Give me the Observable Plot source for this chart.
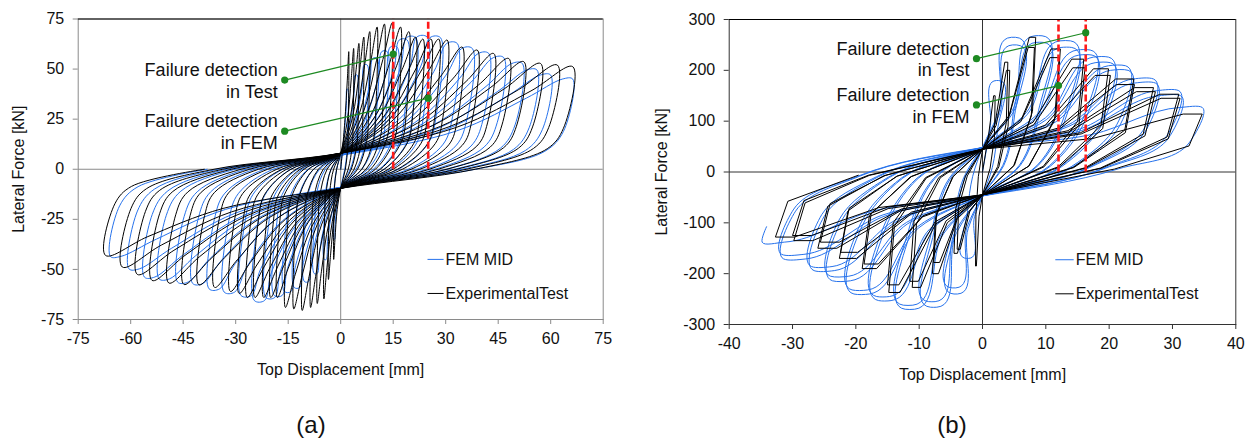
<!DOCTYPE html>
<html>
<head>
<meta charset="utf-8">
<script src="https://cdn.jsdelivr.net/npm/d3@7"></script>
<script src="https://cdn.jsdelivr.net/npm/@observablehq/plot@0.6"></script>
<style>
  html, body { margin: 0; padding: 0; background: #fff; }
  body { width: 1252px; height: 442px; position: relative; overflow: hidden;
         font-family: "Liberation Sans", Arial, Helvetica, sans-serif; }
  .panel { position: absolute; top: 0; }
  .cap { position: absolute; font-size: 24px; color: #111; transform: translate(-50%, -50%); }
</style>
</head>
<body>
<div id="pa" class="panel" style="left:0"></div>
<div id="pb" class="panel" style="left:626px"></div>
<div class="cap" style="left:311px;top:425px">(a)</div>
<div class="cap" style="left:952px;top:425px">(b)</div>
<script>
// ---------- axes ----------
const aXTicks = [-75, -60, -45, -30, -15, 0, 15, 30, 45, 60, 75];
const aYTicks = [-75, -50, -25, 0, 25, 50, 75];
const bXTicks = [-40, -30, -20, -10, 0, 10, 20, 30, 40];
const bYTicks = [-300, -200, -100, 0, 100, 200, 300];

// ---------- panel (a): cycle peaks, displacement [mm] / force [kN] ----------
const aTestPosDisp  = [2.3, 3.7, 5.2, 6.6, 8.3, 10.4, 12.5, 14.7, 17.1, 19.5, 21.4, 23.5, 25.8, 28, 30.4, 34.7, 39, 43.7, 48, 52.3, 57.1, 61.9, 66.3];
const aTestPosForce = [58.7, 60.3, 62.8, 66, 68.7, 71, 72.5, 73, 71, 68.7, 66, 65, 65, 65, 64.5, 61, 59.5, 57.8, 55.3, 53.7, 52.8, 52, 51.2];
const aTestNegDisp  = [-2, -3.5, -4.8, -6.7, -8.6, -11, -13.4, -15.8, -18.1, -20, -22, -24.5, -26.7, -29, -31.5, -36, -40.5, -44.8, -49.1, -53.9, -58.1, -62.4, -67.2];
const aTestNegForce = [-45, -55, -64.7, -67, -69, -70.5, -69.7, -69, -64, -64, -64, -64, -64, -62, -61, -59, -57.7, -57.5, -56.8, -55.5, -52.5, -48.8, -43];

const aFemPosDisp  = [2, 4.7, 7.6, 10.4, 13.3, 16.1, 19, 21.4, 24.7, 28.5, 33.3, 37.6, 42.3, 46.6, 51.9, 56.1, 60, 66.3];
const aFemPosForce = [40, 47, 52, 55.3, 58.7, 61, 64.5, 65.7, 66, 65.7, 62.8, 60.3, 57.8, 55.7, 52.8, 49.5, 47, 45];
const aFemNegDisp  = [-2, -4.7, -7.6, -10.4, -13.3, -16.1, -19, -21.4, -24.7, -28.5, -33.3, -37.6, -42.3, -46.6, -51.9, -56.1, -60.5, -65.8];
const aFemNegForce = [-35, -45, -52, -56, -59, -61, -63, -64, -65.5, -63, -61.3, -59.7, -57, -56.3, -54.7, -53.8, -49.7, -43.5];

const aFailureDisp = [15, 25];
const aNoteText = ["Failure detection\nin Test", "Failure detection\nin FEM"];
const aNoteAt   = [[-16, 44.5], [-16, 19]];
const aNoteTo   = [[15, 57.5], [25, 35.5]];

// ---------- panel (b): two cycles per amplitude ----------
const bTestPosDisp  = [2, 4, 4.3, 8.4, 8.2, 12.3, 12.1, 16, 16.2, 19.9, 20.2, 23.9, 24, 27, 27.3, 31, 31.2, 34.7];
const bTestPosForce = [150, 216, 200, 265, 245, 242, 225, 222, 205, 203, 190, 183, 172, 166, 158, 153, 145, 114];
const bTestNegDisp  = [-1.1, -4, -4.5, -7.7, -7.9, -11.1, -11.5, -14.8, -15, -18.7, -19, -22.4, -22.6, -25.6, -26, -29.8, -30, -32.7];
const bTestNegForce = [-185, -152, -160, -178, -200, -227, -215, -237, -222, -181, -190, -158, -170, -138, -150, -135, -125, -128];

const bFemPosDisp  = [2.5, 5.2, 5.4, 9.4, 9.6, 13.9, 14.1, 17, 17.3, 19.9, 20.2, 22.6, 23, 27, 27.3, 31, 31.3, 34.7];
const bFemPosForce = [180, 265, 250, 268, 255, 258, 245, 240, 230, 226, 215, 209, 200, 183, 175, 160, 150, 127];
const bFemNegDisp  = [-2.5, -4.5, -4.8, -8.2, -8.5, -12.2, -12.5, -16.4, -16.7, -20.3, -20.6, -23.7, -24, -26.6, -27, -31.4, -31.7, -34.8];
const bFemNegForce = [-170, -240, -228, -266, -255, -270, -262, -253, -245, -240, -232, -214, -205, -194, -186, -171, -162, -138];

const bFailureDisp = [12, 16.3];
const bNoteText = ["Failure detection\nin Test", "Failure detection\nin FEM"];
const bNoteAt   = [[-0.95, 223], [-0.95, 132]];
const bNoteTo   = [[16.3, 274], [12, 170]];

const seriesNames = ["FEM MID", "ExperimentalTest"];

// ---------- styling ----------
const femBlue = "#2672ec";
const testBlack = "#000";
const failRed = "#ff1a1a";
const noteGreen = "#1d8a22";

// Loop outline per cycle: reload branch bends toward the peak, a short
// plateau at the peak, a steep unloading knee, then the pinched branch
// through the origin region toward the opposite peak.
const aTestShape = {pinchUp: 8, pinchDown: -9.5, plateau: 0, stopEarly: false,
  reload: [[0.5, 0.3], [0.82, 0.72]], unload: [[0.04, 0.4], [0.11, 0.2], [0.42, 0]]};
const aFemShape = {pinchUp: 7, pinchDown: -9, plateau: 3, stopEarly: false,
  reload: [[0.5, 0.32], [0.8, 0.75]], unload: [[0.04, 0.42], [0.12, 0.2], [0.42, 0]]};
const bTestShape = {pinchUp: 45, pinchDown: -45, plateau: 3, stopEarly: false,
  reload: [[0.5, 0.3]], unload: [[0.06, 0.45], [0.4, 0.05]]};
const bFemShape = {pinchUp: 48, pinchDown: -47, plateau: 3.5, stopEarly: true,
  reload: [[0.5, 0.33]], unload: [[0.06, 0.45], [0.38, 0.05]]};

function hysteresis(pd, pf, nd, nf, shape) {
  const {pinchUp, pinchDown, reload, unload, plateau, stopEarly} = shape;
  const pts = [{x: 0, y: 0}];
  const add = (x, y) => pts.push({x, y});
  const last = pd.length - 1;
  for (let i = 0; i <= last; i++) {
    const dp = pd[i], fp = pf[i], dn = nd[i], fn = nf[i];
    for (const [m, b] of reload) add(dp * m, pinchUp + (fp - pinchUp) * b);
    if (plateau) add(dp - Math.min(plateau, dp * 0.12), fp);
    add(dp, fp);
    for (const [m, u] of unload) add(dp * (1 - m), fp * u);
    add(0, pinchDown);
    for (const [m, b] of reload) add(dn * m, pinchDown + (fn - pinchDown) * b);
    if (plateau) add(dn + Math.min(plateau, -dn * 0.12), fn);
    add(dn, fn);
    if (i === last && stopEarly) { add(dn * 0.98, fn * 0.78); break; }
    for (const [m, u] of unload) add(dn * (1 - m), fn * u);
    if (i < last) add(0, pinchUp);
  }
  return pts;
}

const fmt = d => String(d);

function panel(cfg) {
  const notes = cfg.noteText.map((t, i) => ({t, x: cfg.noteAt[i][0], y: cfg.noteAt[i][1],
    x2: cfg.noteTo[i][0], y2: cfg.noteTo[i][1]}));
  const legend = seriesNames.map((name, i) => ({name, color: i === 0 ? femBlue : testBlack,
    x1: cfg.legendX[0], x2: cfg.legendX[1], y: cfg.legendY[i]}));
  return Plot.plot({
    width: 626, height: 392,
    marginLeft: cfg.m[0], marginRight: cfg.m[1], marginTop: cfg.m[2], marginBottom: cfg.m[3],
    style: {fontFamily: "'Liberation Sans', Arial, sans-serif", fontSize: "16px",
            background: "transparent", overflow: "visible", color: "#111"},
    x: {domain: cfg.xDomain},
    y: {domain: cfg.yDomain},
    marks: [
      Plot.ruleX([0], {stroke: cfg.zeroColor, strokeWidth: 1}),
      Plot.ruleY([0], {stroke: cfg.zeroColor, strokeWidth: 1}),
      Plot.line(cfg.fem, {x: "x", y: "y", stroke: femBlue, strokeWidth: 1, curve: "catmull-rom", tension: cfg.femTension}),
      Plot.line(cfg.test, {x: "x", y: "y", stroke: testBlack, strokeWidth: 1, curve: cfg.testCurve}),
      Plot.ruleX(cfg.failure, {y1: 0, y2: cfg.yDomain[1], stroke: failRed, strokeWidth: 2.6, strokeDasharray: "7,3"}),
      Plot.link(notes, {x1: "x", y1: "y", x2: "x2", y2: "y2", stroke: noteGreen, strokeWidth: 1.2}),
      Plot.dot(notes, {x: "x", y: "y", r: 3.6, fill: noteGreen}),
      Plot.dot(notes, {x: "x2", y: "y2", r: 3.6, fill: noteGreen}),
      Plot.text(notes, {x: "x", y: "y", text: "t", textAnchor: "end", dx: -7, fontSize: 18,
        lineHeight: 1.2, fill: "#111"}),
      Plot.link(legend, {x1: "x1", x2: "x2", y1: "y", y2: "y", stroke: "color", strokeWidth: 1}),
      Plot.text(legend, {x: "x2", y: "y", text: "name", textAnchor: "start", dx: 2, fontSize: 16, fill: "#111"}),
      Plot.frame({stroke: cfg.frameColor}),
      Plot.ruleY([cfg.yDomain[1]], {stroke: "#000"}),
      Plot.axisX({ticks: cfg.xTicks, tickFormat: fmt, tickSize: 5, tickPadding: 8, stroke: cfg.frameColor,
        label: "Top Displacement [mm]", labelAnchor: "center", labelArrow: "none", labelOffset: 55}),
      Plot.axisY({ticks: cfg.yTicks, tickFormat: fmt, tickSize: 5, tickPadding: 9, stroke: cfg.frameColor,
        label: "Lateral Force [kN]", labelAnchor: "center", labelArrow: "none", labelOffset: cfg.yLabelOffset})
    ]
  });
}

document.getElementById("pa").append(panel({
  m: [77.7, 23.3, 18.5, 73],
  xDomain: [-75, 75], yDomain: [-75, 75], xTicks: aXTicks, yTicks: aYTicks,
  fem: hysteresis(aFemPosDisp, aFemPosForce, aFemNegDisp, aFemNegForce, aFemShape),
  test: hysteresis(aTestPosDisp, aTestPosForce, aTestNegDisp, aTestNegForce, aTestShape),
  testCurve: "catmull-rom", femTension: 0.5,
  failure: aFailureDisp, noteText: aNoteText, noteAt: aNoteAt, noteTo: aNoteTo,
  legendX: [24.8, 29.4], legendY: [-45, -62],
  zeroColor: "#8a8a8a", frameColor: "#8a8a8a", yLabelOffset: 66
}));

document.getElementById("pb").append(panel({
  m: [102.7, 16.7, 19, 68],
  xDomain: [-40, 40], yDomain: [-300, 300], xTicks: bXTicks, yTicks: bYTicks,
  fem: hysteresis(bFemPosDisp, bFemPosForce, bFemNegDisp, bFemNegForce, bFemShape),
  test: hysteresis(bTestPosDisp, bTestPosForce, bTestNegDisp, bTestNegForce, bTestShape),
  testCurve: "linear", femTension: 1,
  failure: bFailureDisp, noteText: bNoteText, noteAt: bNoteAt, noteTo: bNoteTo,
  legendX: [11.5, 14.4], legendY: [-172.6, -239.6],
  zeroColor: "#333", frameColor: "#333", yLabelOffset: 74
}));
</script>
</body>
</html>
